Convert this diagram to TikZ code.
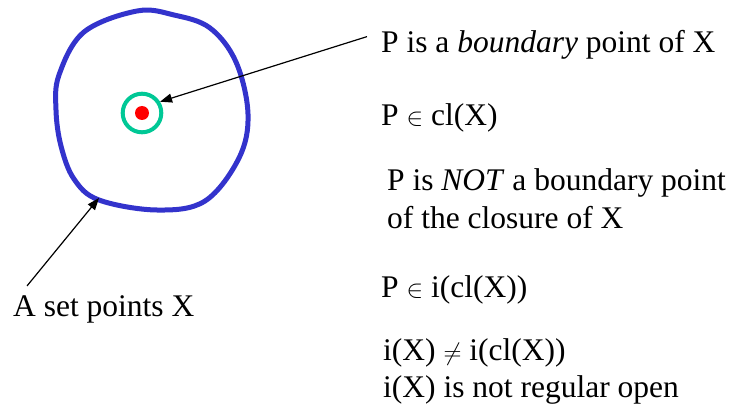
\documentclass[tikz,border=0pt]{standalone}
\usepackage{fontspec}
\setmainfont{Liberation Serif}
\usepackage{xcolor}
\usetikzlibrary{arrows.meta}
\definecolor{setblue}{RGB}{51,51,204}
\definecolor{ringgreen}{RGB}{0,200,150}

\begin{document}
\begin{tikzpicture}[x=1pt, y=1pt,
    lbl/.style={anchor=base west, inner sep=0pt, font=\fontsize{31.5}{38}\selectfont},
    pointer/.style={-{Triangle[length=12pt, width=9pt]}, line width=1.2pt}]
    \useasboundingbox (0,0) rectangle (732,408);
    % the set X
    \draw[setblue, line width=5pt] plot[smooth cycle, tension=0.6] coordinates {
        (137,397) (174,393) (210,380) (236,346) (248,294) (239,250) (205,207)
        (157,198) (99,208) (74,229) (61,262) (56,298) (59,333) (84,376)};
    \coordinate (edge) at (99,210);
    % the point P
    \node[circle, draw=ringgreen, line width=4pt, minimum size=38.6pt, inner sep=0pt] (ring) at (142,295) {};
    \fill[red] (ring.center) circle (7);
    % texts
    \node[lbl] (bnd) at (381,355) {P is a \textit{boundary} point of X};
    \node[lbl] (incl) at (381,282) {P $\in$ cl(X)};
    \node[lbl] (notb) at (387,218) {P is \textit{NOT} a boundary point};
    \node[lbl] (notc) at (387,180) {of the closure of X};
    \node[lbl] (inint) at (381,111) {P $\in$ i(cl(X))};
    \node[lbl] (neq) at (383,48) {i(X) $\neq$ i(cl(X))};
    \node[lbl] (reg) at (383,11) {i(X) is not regular open};
    \node[lbl] (setx) at (13,92) {A set points X};
    % arrows
    \draw[pointer] ([xshift=-14pt, yshift=-6pt]bnd.north west) -- (ring.32);
    \draw[pointer] ([shift={(14pt,9pt)}]setx.north west) -- (edge);
\end{tikzpicture}
\end{document}
